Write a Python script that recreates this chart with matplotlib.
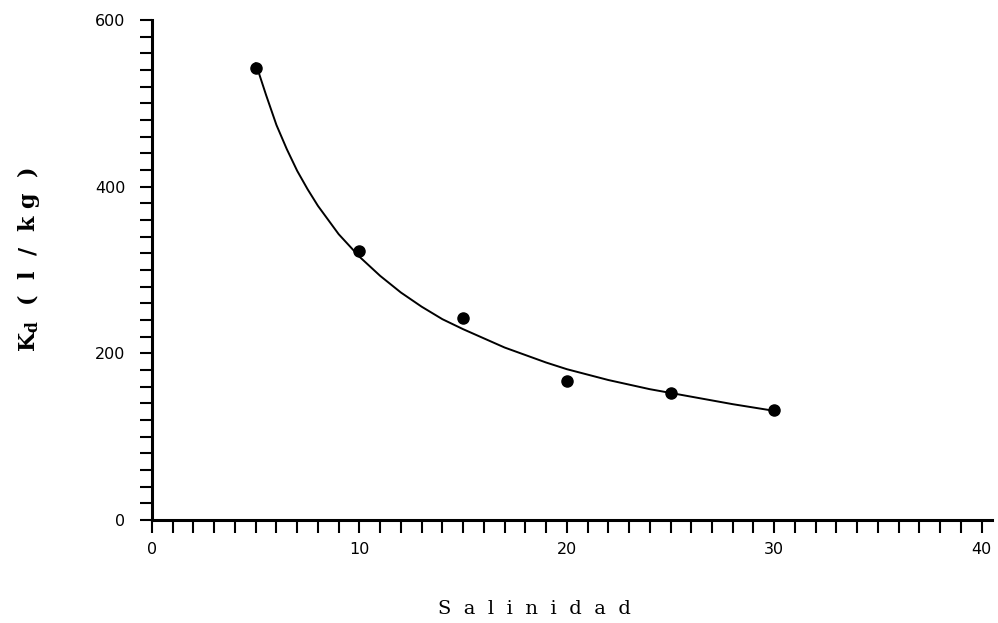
import matplotlib
matplotlib.use("Agg")
import matplotlib.pyplot as plt
from matplotlib.ticker import MultipleLocator

# Measured points
salinity = [5, 10, 15, 20, 25, 30]
kd = [542, 323, 243, 167, 152, 132]

# Fitted curve
curve_x = [5, 5.5, 6, 6.5, 7, 7.5, 8, 9, 10, 11, 12, 13, 14, 15, 16, 17, 18, 19, 20,
           22, 24, 26, 28, 30]
curve_y = [548, 510, 474, 445, 419, 397, 377, 343, 316, 293, 273, 256, 241, 229, 218,
           207, 198, 189, 181, 168, 157, 148, 139, 131]

x_ticks = [0, 10, 20, 30, 40]
y_ticks = [0, 200, 400, 600]

fig = plt.figure(figsize=(9.98, 6.23), dpi=100)
ax = fig.add_axes([0.1523, 0.1653, 0.8417, 0.8026])

ax.plot(curve_x, curve_y, color="black", lw=1.4)
ax.plot(salinity, kd, "o", color="black", ms=8)

ax.set_xlim(0, 40.5)
ax.set_ylim(0, 600)
ax.spines["top"].set_visible(False)
ax.spines["right"].set_visible(False)
ax.spines["left"].set_linewidth(2.2)
ax.spines["bottom"].set_linewidth(2.2)
ax.spines["left"].set_bounds(0, 600)

ax.set_xticks(x_ticks)
ax.set_yticks(y_ticks)
ax.xaxis.set_minor_locator(MultipleLocator(1))
ax.yaxis.set_minor_locator(MultipleLocator(20))
ax.tick_params(axis="both", which="both", direction="out", length=9, width=1.5, color="black")
ax.tick_params(axis="x", which="major", pad=7)
ax.tick_params(axis="y", which="major", pad=10)
for lab in ax.get_xticklabels() + ax.get_yticklabels():
    lab.set_fontfamily("DejaVu Sans")
    lab.set_fontsize(11.5)

ax.set_ylabel(r"K$_\mathregular{d}$  (  l  /  k g  )", fontfamily="DejaVu Serif",
              fontweight="bold", fontsize=16)
ax.yaxis.set_label_coords(-0.131, 0.52)
ax.set_xlabel("S  a  l  i  n  i  d  a  d", fontfamily="DejaVu Serif",
              fontsize=14)
ax.xaxis.set_label_coords(0.455, -0.16)

fig.savefig("out.png", dpi=100)
